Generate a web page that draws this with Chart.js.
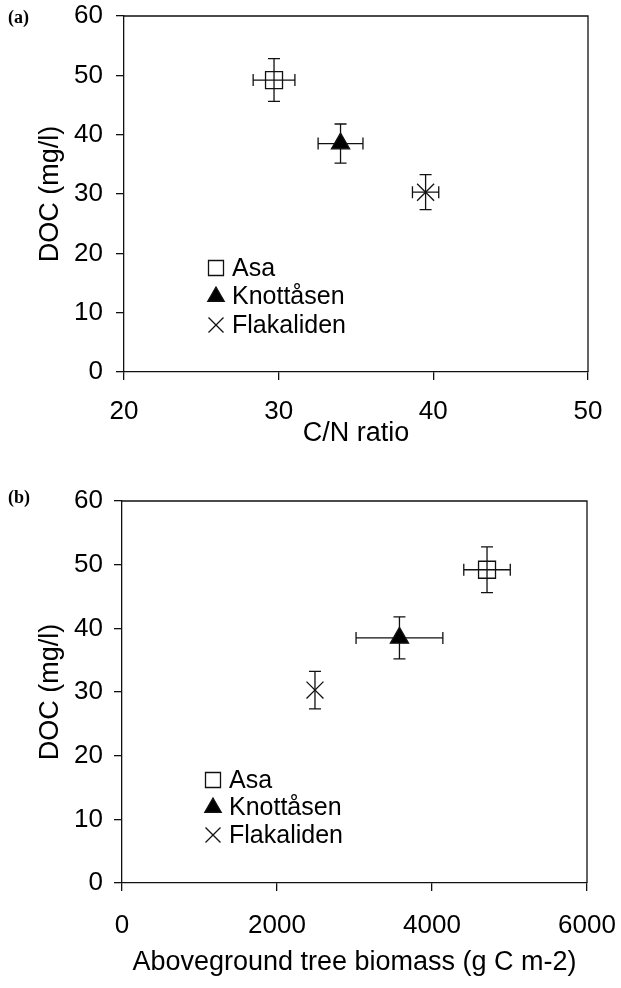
<!DOCTYPE html>
<html>
<head>
<meta charset="utf-8">
<script src="https://cdn.jsdelivr.net/npm/chart.js@4/dist/chart.umd.min.js"></script>
<style>
    body { margin: 0; background: #fff; }
    .page { position: relative; width: 621px; height: 988px; }
    .panel { position: absolute; left: 0; width: 621px; }
    .tag { position: absolute; left: 8px; font: bold 18px "Liberation Serif", "Times New Roman", serif; color: #000; }
</style>
</head>
<body>
<div class="page">
    <div class="panel" style="top:0; height:480px;"><canvas id="cnChart"></canvas></div>
    <div class="panel" style="top:480px; height:508px;"><canvas id="biomassChart"></canvas></div>
    <div class="tag" style="top:7px;">(a)</div>
    <div class="tag" style="top:487px;">(b)</div>
</div>
<script>
const sites = ['Asa', 'Knottåsen', 'Flakaliden'];
const siteStyles = ['rect', 'triangle', 'crossRot'];
const docMean = [49.2, 38.5, 30.3];
const docErr = [3.6, 3.3, 2.95];
const cnRatio = [29.7, 34.0, 39.5];
const cnErr = [1.35, 1.45, 0.85];
const biomass = [4710, 3580, 2490];
const biomassErr = [300, 560, 0];
const docTicks = [0, 10, 20, 30, 40, 50, 60];
const cnTicks = [20, 30, 40, 50];
const biomassTicks = [0, 2000, 4000, 6000];

const FONT = "'Liberation Sans', Arial, Helvetica, sans-serif";
const INK = '#111';

// error bars, drawn through the scales
const errorBars = {
    id: 'errorBars',
    beforeDatasetsDraw(chart) {
        const { ctx, scales: { x, y } } = chart;
        const cap = 6;
        ctx.save();
        ctx.strokeStyle = INK;
        ctx.lineWidth = 1.3;
        chart.data.datasets.forEach(ds => {
            const p = ds.data[0];
            const px = x.getPixelForValue(p.x);
            const py = y.getPixelForValue(p.y);
            ctx.beginPath();
            if (ds.yErr) {
                const top = y.getPixelForValue(p.y + ds.yErr);
                const bot = y.getPixelForValue(p.y - ds.yErr);
                ctx.moveTo(px, top); ctx.lineTo(px, bot);
                ctx.moveTo(px - cap, top); ctx.lineTo(px + cap, top);
                ctx.moveTo(px - cap, bot); ctx.lineTo(px + cap, bot);
            }
            if (ds.xErr) {
                const l = x.getPixelForValue(p.x - ds.xErr);
                const r = x.getPixelForValue(p.x + ds.xErr);
                ctx.moveTo(l, py); ctx.lineTo(r, py);
                ctx.moveTo(l, py - cap); ctx.lineTo(l, py + cap);
                ctx.moveTo(r, py - cap); ctx.lineTo(r, py + cap);
            }
            ctx.stroke();
        });
        ctx.restore();
    }
};

// box around the plot area (top + right sides)
const frame = {
    id: 'frame',
    afterDraw(chart) {
        const { ctx, chartArea: a } = chart;
        ctx.save();
        ctx.strokeStyle = INK;
        ctx.lineWidth = 1.3;
        ctx.beginPath();
        ctx.moveTo(a.left, a.top);
        ctx.lineTo(a.right, a.top);
        ctx.lineTo(a.right, a.bottom);
        ctx.stroke();
        ctx.restore();
    }
};

// legend sitting inside the plot area
const insideLegend = {
    id: 'insideLegend',
    afterDraw(chart, args, opts) {
        const { ctx, chartArea: a } = chart;
        ctx.save();
        ctx.font = '25px ' + FONT;
        ctx.textBaseline = 'middle';
        ctx.textAlign = 'left';
        chart.data.datasets.forEach((ds, i) => {
            const cx = a.left + opts.dx;
            const cy = a.top + opts.dy + i * opts.gap;
            ctx.strokeStyle = INK;
            ctx.fillStyle = ds.backgroundColor;
            ctx.lineWidth = 1.3;
            const r = ds.pointStyle === 'triangle' ? 9.5 : 10.6;
            Chart.helpers.drawPoint(ctx, { pointStyle: ds.pointStyle, radius: r, borderWidth: 1.3, rotation: 0 }, cx, cy);
            ctx.fillStyle = '#000';
            ctx.fillText(ds.label, cx + 16, cy + 1);
        });
        ctx.restore();
    }
};

function buildDatasets(xs, xErrs) {
    return sites.map((name, i) => ({
        label: name,
        data: [{ x: xs[i], y: docMean[i] }],
        xErr: xErrs[i],
        yErr: docErr[i],
        pointStyle: siteStyles[i],
        pointRadius: siteStyles[i] === 'triangle' ? 10.5 : 12,
        borderColor: INK,
        borderWidth: 1.3,
        backgroundColor: siteStyles[i] === 'triangle' ? '#000' : 'rgba(0,0,0,0)'
    }));
}

function axis(ticks, cfg) {
    return {
        type: 'linear',
        min: ticks[0],
        max: ticks[ticks.length - 1],
        afterBuildTicks: s => { s.ticks = ticks.map(v => ({ value: v })); },
        afterFit: s => {
            cfg.fit(s);
            // plot box is placed by hand, so no extra room for label overhang
            s.paddingTop = s.paddingBottom = s.paddingLeft = s.paddingRight = 0;
        },
        grid: { display: true, drawOnChartArea: false, drawTicks: true, tickLength: 8, color: INK, lineWidth: 1.3 },
        border: { display: true, color: INK, width: 1.3 },
        ticks: { color: '#000', font: { family: FONT, size: 26 }, padding: cfg.tickPad, callback: v => String(v) },
        title: { display: true, text: cfg.title, color: '#000', font: { family: FONT, size: 27 }, padding: cfg.titlePad }
    };
}

function makeChart(id, xs, xErrs, xTicks, xTitle, geo) {
    return new Chart(document.getElementById(id), {
        type: 'scatter',
        data: { datasets: buildDatasets(xs, xErrs) },
        options: {
            responsive: true,
            maintainAspectRatio: false,
            animation: false,
            layout: { padding: { top: geo.top, right: geo.right, left: 0, bottom: 0 } },
            plugins: {
                legend: { display: false },
                tooltip: { enabled: false },
                insideLegend: geo.legend
            },
            scales: {
                x: axis(xTicks, { title: xTitle, tickPad: geo.xTickPad, titlePad: { bottom: geo.xTitlePad, top: 0 },
                    fit: s => { s.height = geo.xHeight; } }),
                y: axis(docTicks, { title: 'DOC (mg/l)', tickPad: geo.yTickPad, titlePad: { top: 34, bottom: 0 },
                    fit: s => { s.width = geo.yWidth; } })
            }
        },
        plugins: [errorBars, frame, insideLegend]
    });
}

makeChart('cnChart', cnRatio, cnErr, cnTicks, 'C/N ratio', {
    top: 16, right: 33, yWidth: 124, xHeight: 108, xTickPad: 16, xTitlePad: 30, yTickPad: 13,
    legend: { dx: 92, dy: 252, gap: 28.5 }
});

makeChart('biomassChart', biomass, biomassErr, biomassTicks, 'Aboveground tree biomass (g C m-2)', {
    top: 21, right: 34, yWidth: 122, xHeight: 105, xTickPad: 19, xTitlePad: 9, yTickPad: 11,
    legend: { dx: 91, dy: 279, gap: 27.5 }
});
</script>
</body>
</html>
